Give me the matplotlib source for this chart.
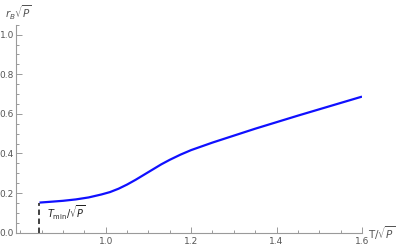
import numpy as np
import matplotlib
matplotlib.use("Agg")
import matplotlib.pyplot as plt
from matplotlib.ticker import MultipleLocator

# curve r_B*sqrt(P) vs T/sqrt(P)
t_vals = [0.845, 0.87, 0.90, 0.93, 0.96, 0.99, 1.01, 1.03, 1.05, 1.07, 1.09,
          1.11, 1.13, 1.15, 1.175, 1.20, 1.25, 1.30, 1.35, 1.40, 1.45, 1.50,
          1.55, 1.60]
r_vals = [0.152, 0.156, 0.161, 0.168, 0.178, 0.193, 0.205, 0.222, 0.243, 0.267,
          0.293, 0.319, 0.345, 0.368, 0.394, 0.417, 0.455, 0.490, 0.525, 0.558,
          0.591, 0.623, 0.655, 0.687]
t_min = 0.845
r_at_tmin = 0.152

x_ticks = [1.0, 1.2, 1.4, 1.6]
y_ticks = [0.0, 0.2, 0.4, 0.6, 0.8, 1.0]

GRAY = "#9a9a9a"
LABEL = "#555555"

fig = plt.figure(figsize=(3.99, 2.49), dpi=100)
ax = fig.add_axes([16 / 399, (249 - 232.7) / 249, (362 - 16) / 399, 208 / 249])

ax.plot(t_vals, r_vals, color="#1010ff", lw=1.6, solid_joinstyle="round",
        solid_capstyle="butt")
ax.plot([t_min, t_min], [0, r_at_tmin], color="#333333", lw=1.3, ls=(0, (3, 2)))
ax.text(t_min + 0.018, 0.075, r"$T_{\rm min}/\sqrt{P}$", fontsize=7, color="#222222")

ax.set_xlim(0.79, 1.6)
ax.set_ylim(0, 1.05)
for s in ("top", "right"):
    ax.spines[s].set_visible(False)
for s in ("left", "bottom"):
    ax.spines[s].set_color(GRAY)
    ax.spines[s].set_linewidth(0.8)

ax.set_xticks(x_ticks)
ax.set_yticks(y_ticks)
ax.xaxis.set_minor_locator(MultipleLocator(0.05))
ax.yaxis.set_minor_locator(MultipleLocator(0.05))
ax.tick_params(which="both", direction="in", color=GRAY, labelcolor=LABEL,
               labelsize=6.5, width=0.7)
ax.tick_params(which="major", length=4)
ax.tick_params(axis="y", which="major", pad=1.5)
ax.tick_params(axis="x", which="major", pad=3)
ax.tick_params(which="minor", length=2)

fig.text(5 / 399, 1 - 13 / 249, r"$r_B\sqrt{P}$", fontsize=7.5, color=LABEL, va="center")
fig.text(368 / 399, 1 - 233 / 249, r"T/$\sqrt{P}$", fontsize=7.5, color=LABEL, va="center")

fig.savefig("out.png", dpi=100)
